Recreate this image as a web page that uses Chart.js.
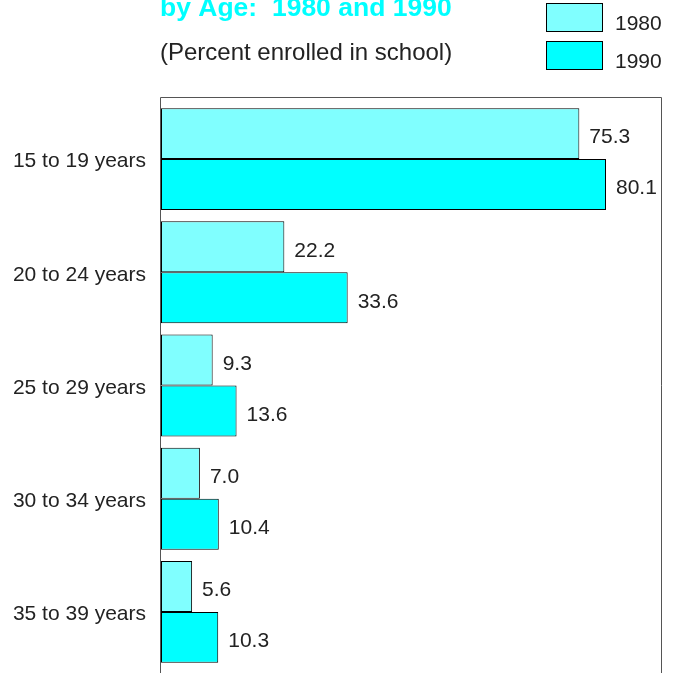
<!DOCTYPE html>
<html>
<head>
<meta charset="utf-8">
<script src="https://cdn.jsdelivr.net/npm/chart.js@4.4.1/dist/chart.umd.min.js"></script>
<style>
  html, body { margin: 0; padding: 0; background: #fff; overflow: hidden; }
  #chart { display: block; }
</style>
</head>
<body>
<canvas id="chart" width="675" height="673"></canvas>
<script>
// School enrollment by age, 1980 vs 1990
const ageGroups = ['15 to 19 years', '20 to 24 years', '25 to 29 years', '30 to 34 years', '35 to 39 years'];
const enrolled1980 = [75.3, 22.2, 9.3, 7.0, 5.6];
const enrolled1990 = [80.1, 33.6, 13.6, 10.4, 10.3];
const seriesLabels = ['1980', '1990'];
const titleText = 'by Age:  1980 and 1990';
const subtitleText = '(Percent enrolled in school)';

const FONT = '"Liberation Sans", Arial, Helvetica, sans-serif';
const TEXT = '#222';

// frame, titles, legend and value labels
const decorations = {
  id: 'decorations',
  afterDatasetsDraw(chart) {
    const ctx = chart.ctx;
    const area = chart.chartArea;
    ctx.save();

    // frame around the plot (open at the bottom, cut off by the page)
    ctx.strokeStyle = '#555';
    ctx.lineWidth = 1;
    ctx.beginPath();
    ctx.moveTo(area.left - 0.5, 673);
    ctx.lineTo(area.left - 0.5, 97.5);
    ctx.lineTo(area.right + 0.5, 97.5);
    ctx.lineTo(area.right + 0.5, 673);
    ctx.stroke();

    // value labels
    ctx.fillStyle = TEXT;
    ctx.font = '21px ' + FONT;
    ctx.textAlign = 'left';
    ctx.textBaseline = 'middle';
    chart.data.datasets.forEach((ds, i) => {
      chart.getDatasetMeta(i).data.forEach((bar, j) => {
        ctx.fillText(ds.data[j].toFixed(1), bar.x + 10, bar.y + 4);
      });
    });

    // title + subtitle
    ctx.font = 'bold 26.5px ' + FONT;
    ctx.fillStyle = '#00ffff';
    ctx.textBaseline = 'alphabetic';
    ctx.fillText(titleText, 160, 16);
    ctx.font = '24px ' + FONT;
    ctx.fillStyle = TEXT;
    ctx.fillText(subtitleText, 160, 60);

    // legend
    chart.data.datasets.forEach((ds, i) => {
      const y = 3.5 + i * 38;
      ctx.fillStyle = ds.backgroundColor;
      ctx.fillRect(546.5, y, 56, 28);
      ctx.strokeStyle = '#000';
      ctx.strokeRect(546.5, y, 56, 28);
      ctx.fillStyle = TEXT;
      ctx.font = '21px ' + FONT;
      ctx.textBaseline = 'middle';
      ctx.fillText(ds.label, 615, y + 21);
    });
    ctx.restore();
  }
};

new Chart(document.getElementById('chart'), {
  type: 'bar',
  data: {
    labels: ageGroups,
    datasets: [
      { label: seriesLabels[0], data: enrolled1980, backgroundColor: '#80ffff', borderColor: '#000', borderWidth: 1 },
      { label: seriesLabels[1], data: enrolled1990, backgroundColor: '#00ffff', borderColor: '#000', borderWidth: 1 }
    ]
  },
  options: {
    indexAxis: 'y',
    responsive: false,
    animation: false,
    layout: { padding: { top: 102.5, bottom: 4.5, right: 14, left: 0 } },
    datasets: { bar: { categoryPercentage: 0.9, barPercentage: 1, borderSkipped: false } },
    plugins: {
      legend: { display: false },
      tooltip: { enabled: false }
    },
    scales: {
      x: { display: false, min: 0, max: 90 },
      y: {
        grid: { display: false, drawTicks: false },
        border: { display: false },
        afterFit(scale) {
          scale.width = 161;
          scale.paddingTop = 0;
          scale.paddingBottom = 0;
        },
        ticks: {
          padding: 15,
          labelOffset: 2.5,
          color: TEXT,
          font: { family: FONT, size: 21 }
        }
      }
    }
  },
  plugins: [decorations]
});
</script>
</body>
</html>
